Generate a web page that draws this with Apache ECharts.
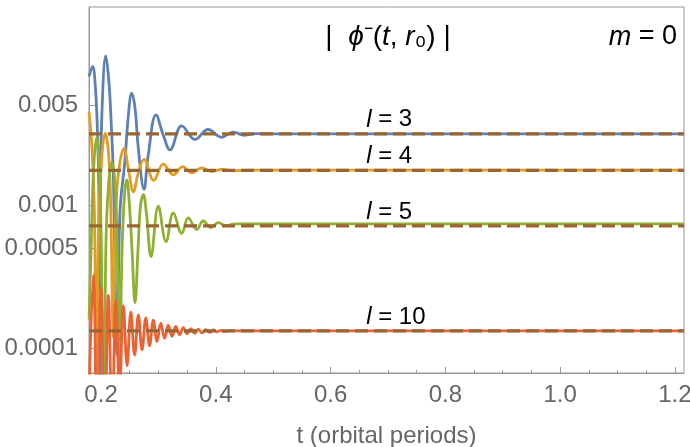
<!DOCTYPE html>
<html>
<head>
<meta charset="utf-8">
<script src="https://cdn.jsdelivr.net/npm/echarts@6/dist/echarts.min.js"></script>
<style>
  html, body { margin: 0; padding: 0; background: #fff; }
  #chart { width: 690px; height: 447px; }
</style>
</head>
<body>
<div id="chart"></div>
<script>
// axis ranges (t in orbital periods, |phi| on a log scale)
var tMin = 0.179
var tMax = 1.216
var yMin = 6.76e-5
var yMax = 0.0244

var xTicks = [0.2, 0.4, 0.6, 0.8, 1.0, 1.2]
var xMinorTicks = [0.2, 0.25, 0.3, 0.35, 0.4, 0.45, 0.5, 0.55, 0.6, 0.65, 0.7, 0.75,
  0.8, 0.85, 0.9, 0.95, 1.0, 1.05, 1.1, 1.15, 1.2]
var yTicks = [0.0001, 0.0005, 0.001, 0.005]

// asymptotic values (dashed lines) and their labels
var levels = [0.00317, 0.00176, 0.00072, 0.000133]
var levelNames = ['3', '4', '5', '10']

// |phi-(t, r0)| for l = 3, 4, 5, 10 as [t, value]
var curveL3 = [
  [0.1791, 0.0080], [0.1852, 0.0094], [0.1900, 0.0068], [0.1935, 0.0035], [0.1962, 0.0012],
  [0.1975, 0.00003], [0.1990, 0.0012], [0.2020, 0.0050], [0.2082, 0.0111], [0.2135, 0.0075],
  [0.2174, 0.0040], [0.2215, 0.0016], [0.2279, 0.00009], [0.2330, 0.0009], [0.2418, 0.0021],
  [0.2470, 0.0040], [0.2535, 0.0061], [0.2592, 0.0048], [0.2650, 0.0025], [0.2749, 0.0013],
  [0.2819, 0.0022], [0.2958, 0.0043], [0.3085, 0.0031], [0.3202, 0.00245], [0.3406, 0.0036],
  [0.3638, 0.0029], [0.3864, 0.0034], [0.4103, 0.0030], [0.4300, 0.00326], [0.4500, 0.0031],
  [0.4700, 0.00318], [0.5000, 0.00317], [1.2160, 0.00317]
]
var curveL4 = [
  [0.1791, 0.0045], [0.1843, 0.0025], [0.1887, 0.0008], [0.1922, 0.00003], [0.1957, 0.0007],
  [0.2009, 0.0021], [0.2075, 0.0032], [0.2131, 0.0023], [0.2166, 0.0011], [0.2215, 0.00012],
  [0.2262, 0.0010], [0.2320, 0.0019], [0.2401, 0.0025], [0.2479, 0.00177], [0.2563, 0.00125],
  [0.2650, 0.0017], [0.2749, 0.0021], [0.2918, 0.0015], [0.3085, 0.00195], [0.3260, 0.00164],
  [0.3423, 0.00187], [0.3580, 0.00169], [0.3754, 0.00183], [0.3930, 0.00173], [0.4105, 0.00179],
  [0.4300, 0.00175], [0.4600, 0.00177], [1.2160, 0.00177]
]
var curveL5 = [
  [0.1791, 0.00016], [0.1826, 0.00049], [0.1870, 0.00178], [0.1925, 0.0030], [0.1965, 0.00193],
  [0.2000, 0.00068], [0.2044, 0.00003], [0.2087, 0.00058], [0.2131, 0.0014], [0.2187, 0.0020],
  [0.2244, 0.0014], [0.2287, 0.00042], [0.2322, 0.00007], [0.2366, 0.00049], [0.2409, 0.00119],
  [0.2448, 0.00151], [0.2488, 0.0011], [0.2540, 0.00049], [0.2592, 0.00021], [0.2644, 0.00049],
  [0.2688, 0.00101], [0.2737, 0.00119], [0.2793, 0.00086], [0.2871, 0.00044], [0.2998, 0.00099],
  [0.3132, 0.00056], [0.3260, 0.00089], [0.3406, 0.00064], [0.3521, 0.00082], [0.3667, 0.00068],
  [0.3782, 0.00078], [0.3916, 0.00070], [0.4044, 0.00076], [0.4178, 0.00072], [0.4334, 0.000745],
  [0.4600, 0.000745], [1.2160, 0.000745]
]
var curveL10 = [
  [0.1791, 0.00005], [0.1866, 0.000328], [0.1931, 0.00002], [0.1997, 0.000266], [0.2062, 0.00002],
  [0.2127, 0.000237], [0.2193, 0.00003], [0.2258, 0.000215], [0.2323, 0.00005], [0.2389, 0.000199],
  [0.2454, 0.000076], [0.2519, 0.000181], [0.2585, 0.00009], [0.2650, 0.000172], [0.2715, 0.000098],
  [0.2780, 0.000164], [0.2846, 0.000105], [0.2911, 0.000158], [0.2976, 0.000112], [0.3042, 0.000151],
  [0.3107, 0.000118], [0.3172, 0.000146], [0.3238, 0.000122], [0.3303, 0.000143], [0.3368, 0.000125],
  [0.3434, 0.000140], [0.3499, 0.000127], [0.3564, 0.000138], [0.3630, 0.000128], [0.3695, 0.000137],
  [0.3760, 0.000129], [0.3826, 0.000136], [0.3891, 0.000130], [0.3956, 0.000135], [0.4022, 0.000131],
  [0.4087, 0.000134], [0.4152, 0.000132], [0.4218, 0.000133], [1.2160, 0.000133]
]

var colors = ['#5E81B5', '#E19C24', '#8FB032', '#EB6235']
var font = 'Liberation Sans'

function curve(data, color, z) {
  return {
    type: 'line',
    data: data,
    showSymbol: false,
    smooth: 0.4,
    lineStyle: { color: color, width: 2.8 },
    z: z
  }
}

function dashed(value) {
  return {
    type: 'line',
    data: [[tMin, value], [tMax, value]],
    showSymbol: false,
    lineStyle: { color: '#996633', width: 3.2, type: [13, 6] },
    z: 10
  }
}

function fmtY(v) {
  return String(+(+v).toPrecision(3))
}

var chart = echarts.init(document.getElementById('chart'))

chart.setOption({
  animation: false,
  backgroundColor: '#fff',
  grid: {
    left: 89, right: 6, top: 7, bottom: 74,
    outerBoundsMode: 'none',
    containLabel: false,
    show: true, borderColor: '#999', borderWidth: 1
  },
  xAxis: [{
    type: 'value',
    min: tMin,
    max: tMax,
    axisLine: { lineStyle: { color: '#999' } },
    axisTick: { inside: true, length: 6, customValues: xTicks, lineStyle: { color: '#999' } },
    axisLabel: {
      customValues: xTicks,
      formatter: function (v) { return v.toFixed(1) },
      color: '#666', fontSize: 24, fontFamily: font, margin: 10
    },
    splitLine: { show: false },
    name: 't (orbital periods)',
    nameLocation: 'middle',
    nameGap: 51,
    nameTextStyle: { color: '#666', fontSize: 24, fontFamily: font }
  }, {
    type: 'value',
    min: tMin,
    max: tMax,
    position: 'bottom',
    axisLine: { show: false },
    axisLabel: { show: false },
    splitLine: { show: false },
    axisTick: { inside: true, length: 3, customValues: xMinorTicks, lineStyle: { color: '#999' } }
  }],
  yAxis: {
    type: 'log',
    logBase: 10,
    min: yMin,
    max: yMax,
    axisLine: { show: true, lineStyle: { color: '#999' } },
    axisTick: { show: true, inside: true, length: 6, customValues: yTicks, lineStyle: { color: '#999' } },
    axisLabel: {
      customValues: yTicks,
      formatter: fmtY,
      color: '#666', fontSize: 24, fontFamily: font, margin: 11
    },
    splitLine: { show: false }
  },
  series: [
    curve(curveL3, colors[0], 2),
    curve(curveL4, colors[1], 3),
    curve(curveL5, colors[2], 4),
    curve(curveL10, colors[3], 5)
  ].concat(levels.map(dashed))
})

// in-plot texts
var labelT = 0.662
var graphics = levels.map(function (v, i) {
  var p = chart.convertToPixel({ gridIndex: 0 }, [labelT, v])
  return {
    type: 'text',
    x: p[0],
    y: p[1] - 14,
    z: 20,
    style: {
      text: '{i|l} = ' + levelNames[i],
      fill: '#000',
      font: '24px ' + font,
      align: 'left',
      verticalAlign: 'middle',
      rich: { i: { fontStyle: 'italic', fontSize: 24, fontFamily: font } }
    }
  }
})
graphics.push({
  type: 'text',
  x: 388,
  y: 37,
  z: 20,
  style: {
    text: '|  {i|ϕ}⁻({i|t}, {i|r}₀) |',
    fill: '#000',
    font: '28px ' + font,
    align: 'center',
    verticalAlign: 'middle',
    rich: { i: { fontStyle: 'italic', fontSize: 28, fontFamily: font } }
  }
})
graphics.push({
  type: 'text',
  x: 677,
  y: 37,
  z: 20,
  style: {
    text: '{i|m} = 0',
    fill: '#000',
    font: '27px ' + font,
    align: 'right',
    verticalAlign: 'middle',
    rich: { i: { fontStyle: 'italic', fontSize: 27, fontFamily: font } }
  }
})
chart.setOption({ graphic: graphics })
</script>
</body>
</html>
